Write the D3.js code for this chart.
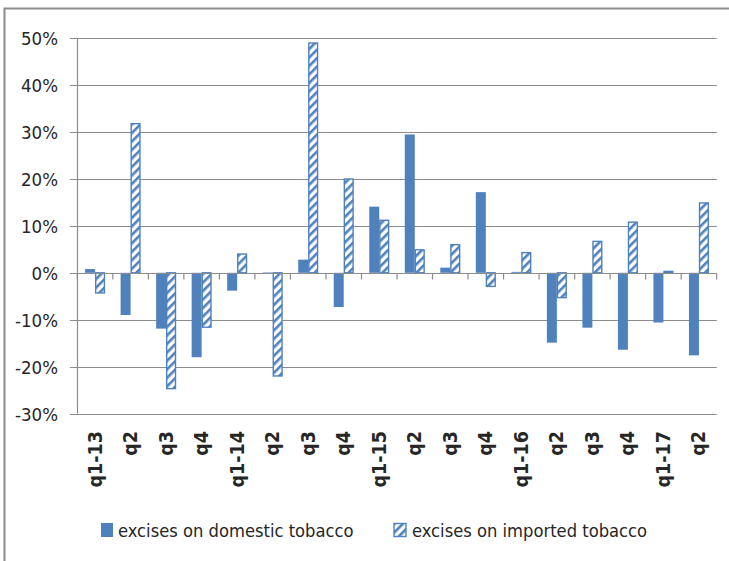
<!DOCTYPE html>
<html><head><meta charset="utf-8">
<script src="https://cdn.jsdelivr.net/npm/d3@7"></script>
<style>
html,body{margin:0;padding:0;background:#fff;}
svg{display:block;}
text{font-family:"Liberation Sans Narrow","DejaVu Sans Condensed","Liberation Sans",Arial,sans-serif;fill:#262626;}
</style></head>
<body>
<script>
const categories = ["q1-13","q2","q3","q4","q1-14","q2","q3","q4","q1-15","q2","q3","q4","q1-16","q2","q3","q4","q1-17","q2"];
const domestic = [0.8,-9.0,-11.9,-18.0,-3.8,0.1,2.8,-7.3,14.1,29.5,1.1,17.2,0.2,-14.9,-11.7,-16.4,-10.6,-17.6];
const imported = [-4.3,31.8,-24.7,-11.6,4.0,-22.0,49.0,20.0,11.2,4.9,6.0,-2.9,4.3,-5.3,6.7,10.8,0.3,14.9];
const seriesNames = ["excises on domestic tobacco","excises on imported tobacco"];
const yTicks = [-30,-20,-10,0,10,20,30,40,50];

const W = 729, H = 561;
const blue = "#4F81BD";
const svg = d3.select("body").append("svg").attr("width",W).attr("height",H);

const defs = svg.append("defs");
const pat = defs.append("pattern").attr("id","hatch").attr("patternUnits","userSpaceOnUse")
  .attr("width",6).attr("height",6).attr("patternTransform","rotate(45)");
pat.append("rect").attr("width",6).attr("height",6).attr("fill","#fff");
pat.append("rect").attr("x",0).attr("y",0).attr("width",2.6).attr("height",6).attr("fill",blue);

// outer frame
svg.append("rect").attr("x",4.5).attr("y",8.5).attr("width",W+10).attr("height",H+10)
  .attr("fill","none").attr("stroke","#8c8c8c").attr("stroke-width",2);

const left = 77.3, right = 716.7;
const y = d3.scaleLinear().domain([-30,50]).range([413.5,38.3]);
const x = d3.scaleBand().domain(d3.range(categories.length)).range([left,right]).paddingInner(0).paddingOuter(0);
const inner = d3.scaleBand().domain([0,1]).range([0,x.bandwidth()]).paddingInner(0).paddingOuter(0.78);

// gridlines
svg.append("g").selectAll("line").data(yTicks).join("line")
  .attr("x1",70).attr("x2",right).attr("y1",d=>Math.round(y(d))+0.5).attr("y2",d=>Math.round(y(d))+0.5)
  .attr("stroke","#8c8c8c").attr("stroke-width",1.2);

// y axis line
svg.append("line").attr("x1",77.5).attr("x2",77.5).attr("y1",y(50)).attr("y2",y(-30))
  .attr("stroke","#8c8c8c").attr("stroke-width",1.2);

// y labels
const yAxis = d3.axisLeft(y).tickValues(yTicks).tickFormat(d=>d+"%").tickSize(0).tickPadding(0);
const ya = svg.append("g").attr("transform","translate(58,0)").call(yAxis);
ya.select(".domain").remove();
ya.selectAll("text").attr("font-size",18.5).style("font-family",null).attr("fill","#262626").attr("dy","0.36em");

// bars
const g = svg.append("g");
g.selectAll("rect.dom").data(domestic).join("rect").attr("class","dom")
  .attr("x",(d,i)=>x(i)+inner(0)).attr("width",inner.bandwidth())
  .attr("y",d=>y(Math.max(0,d))).attr("height",d=>Math.abs(y(d)-y(0)))
  .attr("fill",blue);
g.selectAll("rect.imp").data(imported).join("rect").attr("class","imp")
  .attr("x",(d,i)=>x(i)+inner(1)+0.6).attr("width",inner.bandwidth()-1.2)
  .attr("y",d=>y(Math.max(0,d))).attr("height",d=>Math.abs(y(d)-y(0)))
  .attr("fill","url(#hatch)").attr("stroke",blue).attr("stroke-width",1.4);

// zero axis line with ticks
const z = Math.round(y(0))+0.5;
svg.append("line").attr("x1",left).attr("x2",right).attr("y1",z).attr("y2",z)
  .attr("stroke","#8c8c8c").attr("stroke-width",1.2);
svg.append("g").selectAll("line").data(d3.range(categories.length+1)).join("line")
  .attr("x1",i=>left+i*x.step()).attr("x2",i=>left+i*x.step())
  .attr("y1",z).attr("y2",z+6).attr("stroke","#8c8c8c").attr("stroke-width",1.2);

// x labels
svg.append("g").selectAll("text").data(categories).join("text")
  .attr("transform",(d,i)=>`translate(${x(i)+x.bandwidth()/2+6.5},431) rotate(-90)`)
  .attr("text-anchor","end").attr("font-size",19.5).attr("font-weight","bold")
  .text(d=>d);

// legend
const leg = svg.append("g");
leg.append("rect").attr("x",101).attr("y",523).attr("width",12).attr("height",14).attr("fill",blue);
leg.append("text").attr("x",118).attr("y",537).attr("font-size",18.2).text(seriesNames[0]);
leg.append("rect").attr("x",394).attr("y",523.5).attr("width",12).attr("height",13)
  .attr("fill","url(#hatch)").attr("stroke",blue).attr("stroke-width",1.4);
leg.append("text").attr("x",412).attr("y",537).attr("font-size",18.2).text(seriesNames[1]);
</script>
</body></html>
